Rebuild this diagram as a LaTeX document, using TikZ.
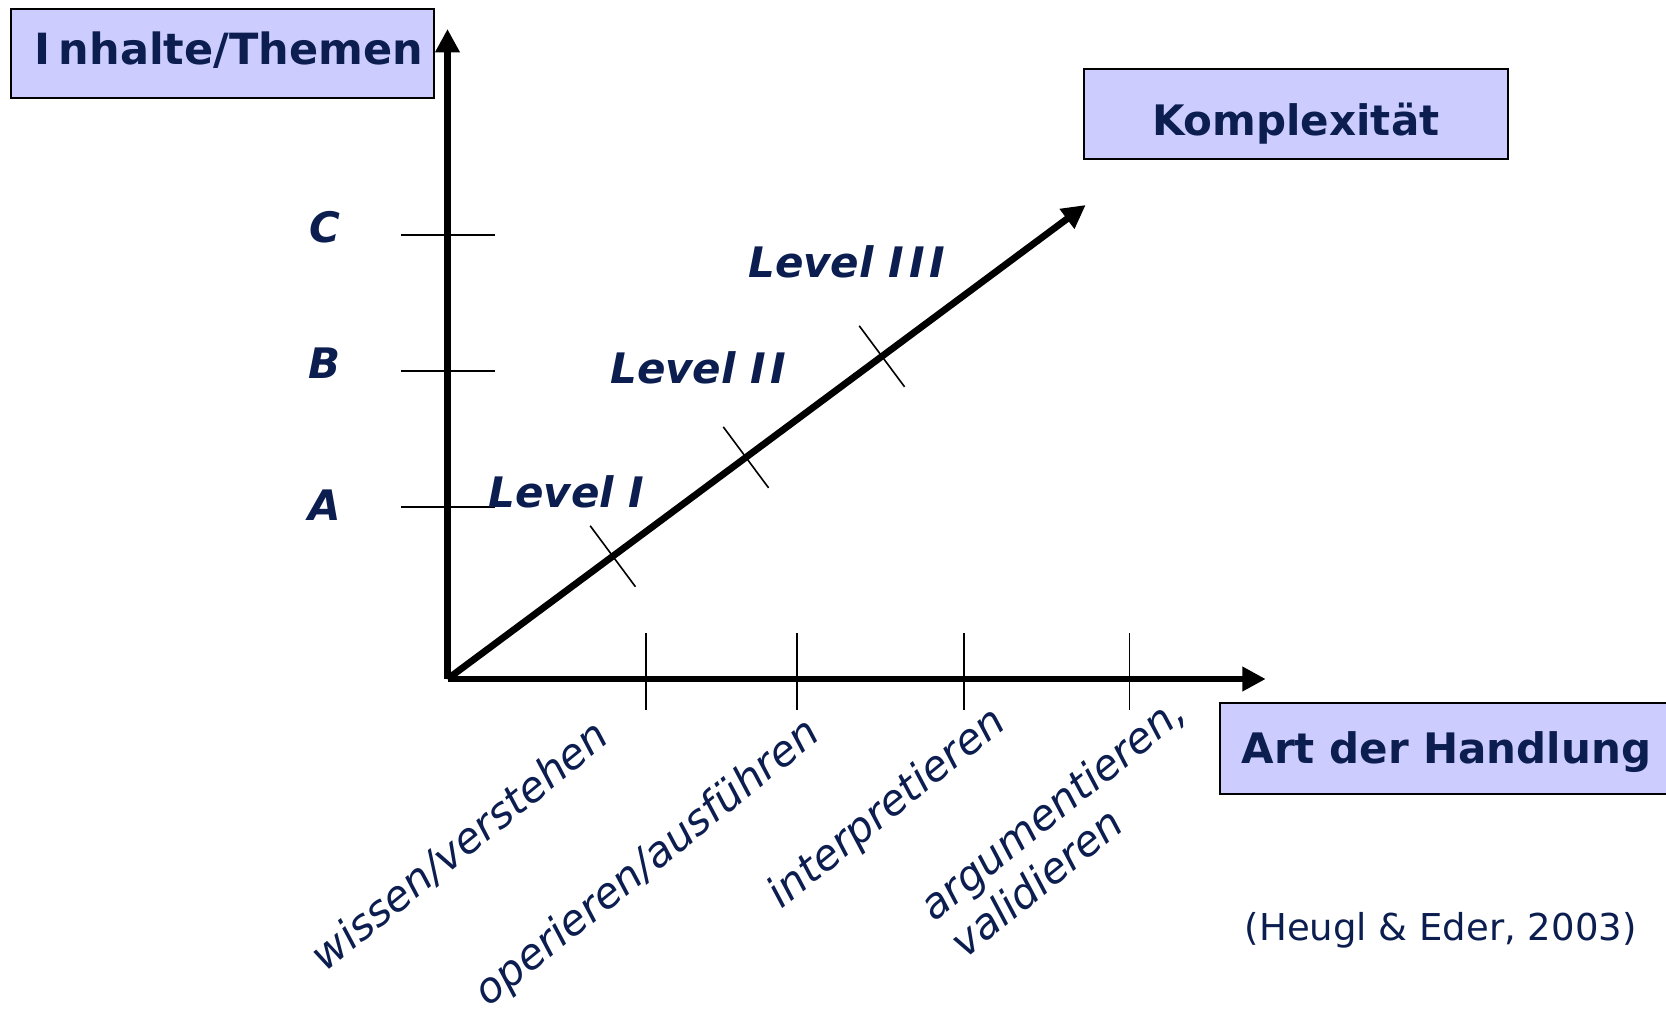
\documentclass[tikz,border=0pt]{standalone}
\usepackage{fontspec}
\setmainfont{DejaVu Sans}
\usetikzlibrary{arrows.meta,calc}
\definecolor{navy}{RGB}{12,30,80}
\definecolor{boxfill}{RGB}{204,204,255}
\begin{document}
\begin{tikzpicture}[x=0.5pt,y=-0.5pt,
  box/.style={draw=black, line width=1pt, fill=boxfill, text=navy,
    font=\fontsize{21}{25}\selectfont\bfseries, inner sep=0pt},
  axis/.style={line width=3.4pt, -{Triangle[length=11.7pt,width=11.7pt]}},
  tickline/.style={line width=0.8pt},
  catlabel/.style={text=navy, font=\fontsize{21}{25}\selectfont\bfseries\itshape},
  lvllabel/.style={text=navy, font=\fontsize{21}{25}\selectfont\bfseries\itshape},
  actlabel/.style={text=navy, font=\fontsize{21}{24}\selectfont\itshape, rotate=39, align=left},
  cite/.style={text=navy, font=\fontsize{18.5}{22}\selectfont}
]
\clip (0,0) rectangle (1666,1008);
\fill[white] (0,0) rectangle (1666,1008);

% coordinates
\coordinate (O) at (447.5,679);
\coordinate (ytip) at (447.5,29);
\coordinate (xtip) at (1265.7,679);
\coordinate (dtip) at (1085.7,205);

% boxes
\node[box, minimum width=211.5pt, minimum height=44.6pt] (inhalte) at (222,53.1)
  {\hspace*{7pt}\raisebox{1.5pt}[\height][\depth]{\fontsize{21.5}{25}\selectfont I\kern4pt nhalte/Themen}};
\node[box, minimum width=212pt, minimum height=45.2pt] (komplex) at (1295.7,114.2)
  {\raisebox{-4.5pt}[\height][\depth]{Komplexität}};
\node[box, minimum width=226.7pt, minimum height=45.2pt] (art) at (1446.4,748.5)
  {\raisebox{-2pt}[\height][\depth]{Art der Handlung}};

% y ticks
\foreach \yy/\nm in {234.8/c,370.8/b,506.8/a}{
  \coordinate (yl\nm) at (400.6,\yy);
  \coordinate (yr\nm) at (495.1,\yy);
  \draw[tickline] (yl\nm) -- (yr\nm);
}
% x ticks
\foreach \xx/\nm in {646/1,796.9/2,963.7/3,1129.4/4}{
  \coordinate (xt\nm) at (\xx,633.3);
  \coordinate (xb\nm) at (\xx,709.75);
  \draw[tickline] (xt\nm) -- (xb\nm);
}
% diagonal ticks
\foreach \t/\nm in {0.259/1,0.4676/2,0.6807/3}{
  \coordinate (d\nm) at ($(O)!\t!(dtip)$);
  \coordinate (da\nm) at ($(d\nm)!19pt!90:(dtip)$);
  \coordinate (db\nm) at ($(d\nm)!19pt!-90:(dtip)$);
  \draw[tickline] (da\nm) -- (db\nm);
}

% axes
\draw[axis] (O) -- (ytip);
\draw[axis] (O) -- (xtip);
\draw[axis] (O) -- (dtip);

% category labels
\node[catlabel] (lc) at (325,227.4) {C};
\node[catlabel] (lb) at (325,363.4) {B};
\node[catlabel] (la) at (325,504.7) {A};

% level labels
\node[lvllabel] (lvl1) at (566.3,492) {Level I};
\node[lvllabel] (lvl2) at (698,367.6) {Level I\kern2pt I};
\node[lvllabel] (lvl3) at (846.8,261.4) {Level I\kern2.5pt I\kern2.5pt I};

% action labels
\node[actlabel] (wiss) at (460,846) {wissen/verstehen};
\node[actlabel] (oper) at (648,864) {operieren/ausführen};
\node[actlabel] (interp) at (887.5,809) {interpretieren};
\node[actlabel] (argu) at (1067,826) {argumentieren,\\validieren};

% citation
\node[cite] (cit) at (1440.75,930.75) {(Heugl \& Eder, 2003)};
\end{tikzpicture}
\end{document}
